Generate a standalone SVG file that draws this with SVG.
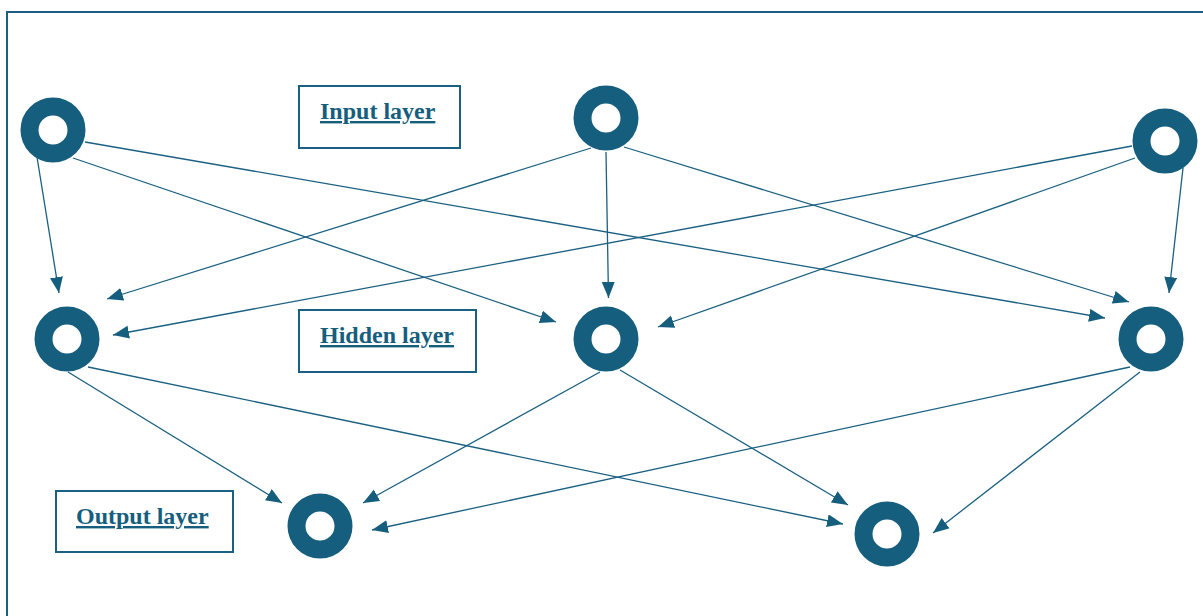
<svg xmlns="http://www.w3.org/2000/svg" width="1203" height="616" viewBox="0 0 1203 616">
<style>
.node{fill:none;stroke:#165e7e;stroke-width:18}
.edge{stroke:#1a6082;stroke-width:1.3;fill:none;marker-end:url(#ah)}
.box{fill:#fff;stroke:#1a6082;stroke-width:2}
.lbl{font-family:"Liberation Serif","Times New Roman",serif;font-weight:bold;font-size:24px;fill:#165e7e;text-decoration:underline}
</style>
<defs>
<marker id="ah" markerUnits="userSpaceOnUse" markerWidth="17" markerHeight="14" refX="16" refY="6.5" orient="auto">
<path d="M0,0 L16,6.5 L0,13 z" fill="#165e7e"/>
</marker>
</defs>
<rect width="1203" height="616" fill="#fff"/>
<path d="M7,620 V12 H1210" fill="none" stroke="#1a6082" stroke-width="2"/>
<g id="connectors">
<line class="edge" x1="37" y1="157" x2="59" y2="293"/>
<line class="edge" x1="73" y1="158" x2="556" y2="322"/>
<line class="edge" x1="85" y1="142" x2="1105" y2="318"/>
<line class="edge" x1="591" y1="148" x2="107" y2="299"/>
<line class="edge" x1="606" y1="152" x2="608.5" y2="298"/>
<line class="edge" x1="624" y1="147" x2="1129" y2="302"/>
<line class="edge" x1="1132" y1="146" x2="113" y2="335"/>
<line class="edge" x1="1135" y1="158" x2="658" y2="327"/>
<line class="edge" x1="1183" y1="168" x2="1169" y2="293"/>
<line class="edge" x1="68" y1="372" x2="282" y2="503"/>
<line class="edge" x1="88" y1="367" x2="843" y2="524"/>
<line class="edge" x1="600" y1="372" x2="363" y2="503"/>
<line class="edge" x1="620" y1="370" x2="848" y2="505"/>
<line class="edge" x1="1130" y1="367" x2="372" y2="530"/>
<line class="edge" x1="1140" y1="372" x2="933" y2="533"/>
</g>
<g id="input1"><circle class="node" cx="53" cy="130" r="23.5"/></g>
<g id="input2"><circle class="node" cx="606" cy="118" r="23.5"/></g>
<g id="input3"><circle class="node" cx="1165" cy="141" r="23.5"/></g>
<g id="hidden1"><circle class="node" cx="67" cy="339" r="23.5"/></g>
<g id="hidden2"><circle class="node" cx="606" cy="339" r="23.5"/></g>
<g id="hidden3"><circle class="node" cx="1151" cy="339" r="23.5"/></g>
<g id="output1"><circle class="node" cx="320" cy="526" r="23.5"/></g>
<g id="output2"><circle class="node" cx="887" cy="534" r="23.5"/></g>
<g id="label-input"><rect class="box" x="299" y="86" width="161" height="62"/><text class="lbl" x="320" y="119">Input layer</text></g>
<g id="label-hidden"><rect class="box" x="299" y="310" width="177" height="62"/><text class="lbl" x="320" y="343">Hidden layer</text></g>
<g id="label-output"><rect class="box" x="56" y="491" width="177" height="61"/><text class="lbl" x="76" y="524">Output layer</text></g>
</svg>
